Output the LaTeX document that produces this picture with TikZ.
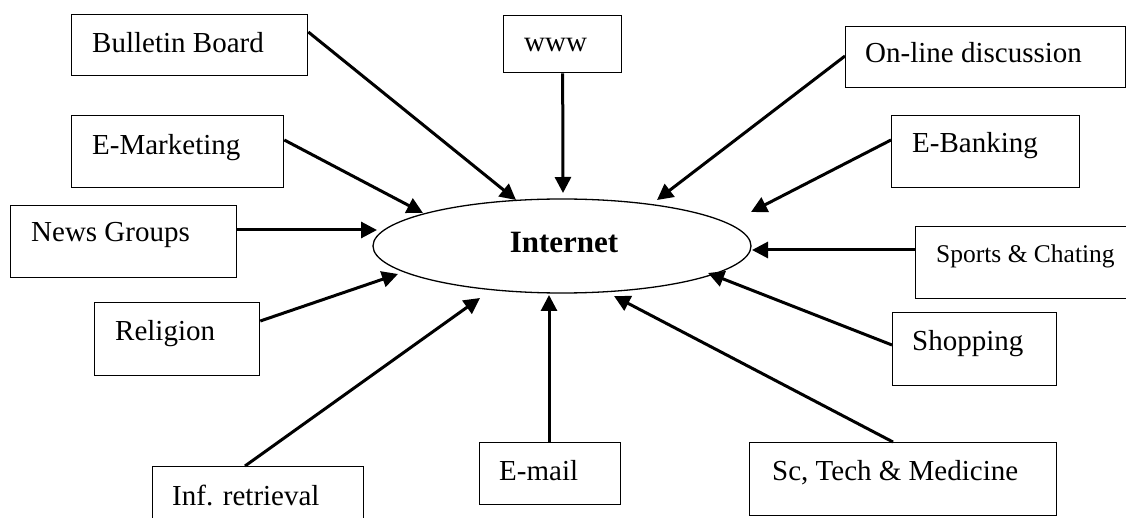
\documentclass[tikz,border=0pt]{standalone}
\usepackage{fontspec}
\setmainfont{Liberation Serif}
\usetikzlibrary{arrows.meta,calc,shapes.geometric}
\begin{document}
\begin{tikzpicture}[x=1pt,y=-1pt,
  box/.style={draw,line width=1.3pt,inner sep=0pt,anchor=north west},
  txt/.style={inner sep=0pt,anchor=base west,font=\fontsize{29}{34}\selectfont},
  smalltxt/.style={inner sep=0pt,anchor=base west,font=\fontsize{25.5}{30}\selectfont},
  arr/.style={line width=3pt,-{Triangle[length=16pt,width=16pt]}}]
\useasboundingbox (0,0) rectangle (1126,518);
\fill[white] (0,0) rectangle (1126,518);
\clip (0,0) rectangle (1126,518);
% central ellipse
\node[ellipse,draw,line width=1.3pt,minimum width=378pt,minimum height=94pt,inner sep=0pt] (net) at (562,246) {};
\node[inner sep=0pt,anchor=base,font=\fontsize{31}{36}\selectfont\bfseries] (nett) at (564,253) {Internet};
% boxes
\node[box,minimum width=236pt,minimum height=61pt] (bb) at (71,14) {};
\node[txt] (bbt) at (92,53) {Bulletin Board};
\node[box,minimum width=212pt,minimum height=72pt] (mk) at (71,115) {};
\node[txt] (mkt) at (92,155) {E-Marketing};
\node[box,minimum width=226pt,minimum height=72pt] (ng) at (10,205) {};
\node[txt] (ngt) at (31,242) {News Groups};
\node[box,minimum width=165pt,minimum height=73pt] (re) at (94,302) {};
\node[txt] (ret) at (115,341) {Religion};
\node[box,minimum width=211pt,minimum height=80pt] (ir) at (152,466) {};
\node[txt] (irt) at (172,505) {Inf. retrieval};
\node[box,minimum width=118pt,minimum height=57pt] (www) at (503,15) {};
\node[txt] (wwwt) at (524,52) {www};
\node[box,minimum width=280pt,minimum height=61pt] (ol) at (845,26) {};
\node[txt] (olt) at (865,63) {On-line discussion};
\node[box,minimum width=188pt,minimum height=72pt] (eb) at (891,115) {};
\node[txt] (ebt) at (912,153) {E-Banking};
\node[box,minimum width=230pt,minimum height=72pt] (sp) at (915,226) {};
\node[smalltxt] (spt) at (936,263) {Sports \& Chating};
\node[box,minimum width=164pt,minimum height=73pt] (sh) at (892,312) {};
\node[txt] (sht) at (912,350) {Shopping};
\node[box,minimum width=307pt,minimum height=73pt] (sc) at (749,442) {};
\node[txt] (sct) at (772,480) {Sc, Tech \& Medicine};
\node[box,minimum width=141pt,minimum height=62pt] (em) at (479,442) {};
\node[txt] (emt) at (499,480) {E-mail};
% connectors
\draw[arr] ($(bb.north east)+(0,18)$) -- ($(net.center)+(-46,-46)$);
\draw[arr] (www.south) -- ($(net.center)+(1,-53)$);
\draw[arr] ($(ol.north west)+(0,30)$) -- ($(net.center)+(95,-46)$);
\draw[arr] ($(eb.north west)+(0,25)$) -- ($(net.center)+(189,-34)$);
\draw[arr] ($(sp.north west)+(0,24)$) -- ($(net.center)+(190,4)$);
\draw[arr] ($(sh.north west)+(0,33)$) -- ($(net.center)+(146,27)$);
\draw[arr] ($(sc.north west)+(144,0)$) -- ($(net.center)+(52,50)$);
\draw[arr] ($(em.north west)+(70,0)$) -- ($(net.center)+(-13,49)$);
\draw[arr] ($(ir.north west)+(93,0)$) -- ($(net.center)+(-82,52)$);
\draw[arr] ($(re.north east)+(0,19)$) -- ($(net.center)+(-164,28)$);
\draw[arr] ($(ng.north east)+(0,25)$) -- ($(net.center)+(-185,-16)$);
\draw[arr] ($(mk.north east)+(0,25)$) -- ($(net.center)+(-139,-33)$);
\end{tikzpicture}
\end{document}
